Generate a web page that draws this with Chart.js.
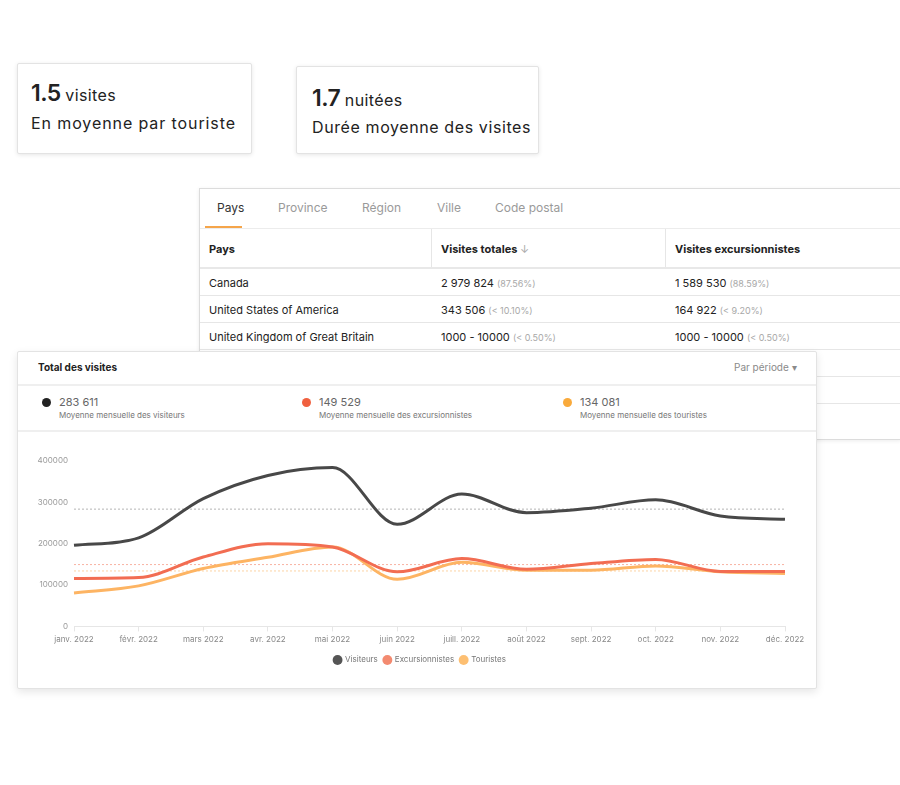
<!DOCTYPE html>
<html><head><meta charset="utf-8">
<script src="https://cdn.jsdelivr.net/npm/chart.js@4/dist/chart.umd.min.js"></script>
<style>
*{box-sizing:border-box;margin:0;padding:0}
body{width:900px;height:785px;background:#fff;font-family:Inter,"Open Sans",sans-serif;position:relative;overflow:hidden;color:#222}
.abs{position:absolute;white-space:nowrap}
.card{position:absolute;background:#fff;border:1px solid #e3e3e3;box-shadow:0 1px 4px rgba(0,0,0,0.10);border-radius:2px}
.big{font-size:23px;font-weight:600;letter-spacing:-0.5px}
.unit{font-size:16px;font-weight:400;letter-spacing:0.4px}
.sub{font-size:16px;color:#222;letter-spacing:0.9px}
.tab{position:absolute;top:200px;font-size:12px;color:#9a9a9a}
.th{position:absolute;top:242px;font-size:11px;font-weight:700;color:#222}
.td{position:absolute;font-size:11px;color:#222;white-space:nowrap}
.td span{font-size:9px;color:#a8a8a8}
.hl{position:absolute;height:1px;background:#e6e6e6}
</style></head><body>

<div class="card" style="left:17px;top:63px;width:235px;height:91px">
  <div class="abs" style="left:13px;top:15px"><span class="big">1.5</span> <span class="unit">visites</span></div>
  <div class="abs sub" style="left:13px;top:49px">En moyenne par touriste</div>
</div>
<div class="card" style="left:296px;top:66px;width:243px;height:88px">
  <div class="abs" style="left:15px;top:17px"><span class="big">1.7</span> <span class="unit">nuitées</span></div>
  <div class="abs sub" style="left:15px;top:50px;letter-spacing:0.6px">Durée moyenne des visites</div>
</div>

<!-- table card -->
<div class="abs" style="left:199px;top:188px;width:702px;height:252px;border:1px solid #dcdcdc;border-right:none;background:#fff;box-shadow:0 1px 4px rgba(0,0,0,0.08)"></div>
<div class="tab" style="left:217px;color:#333">Pays</div>
<div class="tab" style="left:278px">Province</div>
<div class="tab" style="left:362px">Région</div>
<div class="tab" style="left:437px">Ville</div>
<div class="tab" style="left:495px">Code postal</div>
<div class="abs" style="left:205px;top:226px;width:37px;height:2px;background:#f5a54a"></div>
<div class="hl" style="left:200px;top:228px;width:700px;background:#ececec"></div>
<div class="abs" style="left:431px;top:229px;width:1px;height:39px;background:#e6e6e6"></div>
<div class="abs" style="left:665px;top:229px;width:1px;height:39px;background:#e6e6e6"></div>
<div class="hl" style="left:200px;top:267px;width:700px;height:2px;background:#e8e8e8"></div>
<div class="th" style="left:209px">Pays</div>
<div class="th" style="left:441px">Visites totales <span style="font-weight:400;color:#aaa">↓</span></div>
<div class="th" style="left:675px">Visites excursionnistes</div>
<div class="td" style="left:209px;top:276px">Canada</div>
<div class="td" style="left:441px;top:276px">2 979 824 <span>(87.56%)</span></div>
<div class="td" style="left:675px;top:276px">1 589 530 <span>(88.59%)</span></div>
<div class="hl" style="left:200px;top:295px;width:700px"></div>
<div class="td" style="left:209px;top:303px">United States of America</div>
<div class="td" style="left:441px;top:303px">343 506 <span>(&lt; 10.10%)</span></div>
<div class="td" style="left:675px;top:303px">164 922 <span>(&lt; 9.20%)</span></div>
<div class="hl" style="left:200px;top:322px;width:700px"></div>
<div class="td" style="left:209px;top:330px">United Kingdom of Great Britain</div>
<div class="td" style="left:441px;top:330px">1000 - 10000 <span>(&lt; 0.50%)</span></div>
<div class="td" style="left:675px;top:330px">1000 - 10000 <span>(&lt; 0.50%)</span></div>
<div class="hl" style="left:200px;top:349px;width:700px"></div>
<div class="hl" style="left:200px;top:376px;width:700px"></div>
<div class="hl" style="left:200px;top:403px;width:700px"></div>

<!-- chart card -->
<div class="card" style="left:17px;top:351px;width:800px;height:338px;box-shadow:0 3px 8px rgba(0,0,0,0.10)">
  <div class="abs" style="left:20px;top:9px;font-size:10px;font-weight:700;color:#222">Total des visites</div>
  <div class="abs" style="left:716px;top:9px;font-size:10px;color:#8a8a8a">Par période ▾</div>
  <div class="abs" style="left:0;top:32px;width:798px;height:2px;background:#efefef"></div>
  <div class="abs" style="left:0;top:78px;width:798px;height:2px;background:#efefef"></div>
  <div id="stats"></div>
  <div class="abs" style="left:0;top:88px;width:804px;height:240px"><canvas id="c"></canvas></div>
</div>

<script>
const months = ["janv. 2022","févr. 2022","mars 2022","avr. 2022","mai 2022","juin 2022","juill. 2022","août 2022","sept. 2022","oct. 2022","nov. 2022","déc. 2022"];
const visiteurs = [196000,214000,309000,365000,384000,247000,320000,275000,286000,306000,267000,259000];
const excursionnistes = [116000,118000,168000,200000,192000,132000,164000,138000,152000,162000,133000,133000];
const touristes = [81000,98000,140000,167000,192000,114000,155000,136000,136000,146000,132000,128000];
const seriesNames = ["Visiteurs","Excursionnistes","Touristes"];
const averages = [283611,149529,134081];
const averageLabels = ["283 611","149 529","134 081"];
const averageTexts = ["Moyenne mensuelle des visiteurs","Moyenne mensuelle des excursionnistes","Moyenne mensuelle des touristes"];
const yTicks = [0,100000,200000,300000,400000];

const lineColors = ["#484848","#f26d52","#fdb463"];
const legendColors = ["#555555","#f38a70","#fdbf72"];
const dotColors = ["#222222","#f0603f","#f9aa3c"];
const avgColors = ["#b5b5b5","#f8b3a3","#fcd3a3"];

// stats header
const stats = document.getElementById('stats');
const statX = [24,284,545];
averages.forEach((v,i)=>{
  stats.insertAdjacentHTML('beforeend',
   `<div class="abs" style="left:${statX[i]}px;top:46px;width:9px;height:9px;border-radius:50%;background:${dotColors[i]}"></div>
    <div class="abs" style="left:${statX[i]+17}px;top:43px;font-size:11px;color:#666">${averageLabels[i]}</div>
    <div class="abs" style="left:${statX[i]+17}px;top:58px;font-size:8px;color:#777">${averageTexts[i]}</div>`);
});

const series = [visiteurs, excursionnistes, touristes];
const datasets = series.map((d,i)=>({
  label: seriesNames[i], data: d, borderColor: lineColors[i], backgroundColor: legendColors[i],
  borderWidth: 3, pointRadius: 0, cubicInterpolationMode:'monotone', fill: false, order: 1
}));
averages.forEach((a,i)=>{
  datasets.push({label:'avg'+i, data: months.map(()=>a), borderColor: avgColors[i], borderWidth: 1,
    borderDash:[2,2], pointRadius:0, fill:false, order: 2});
});

new Chart(document.getElementById('c'), {
  type:'line',
  data:{labels: months, datasets},
  options:{
    responsive:true, maintainAspectRatio:false, animation:false,
    layout:{padding:{top:21,right:0,left:0,bottom:6}},
    plugins:{
      tooltip:{enabled:false},
      legend:{position:'bottom',
        labels:{usePointStyle:true, pointStyle:'circle', boxWidth:7, boxHeight:7,
          padding:6, color:'#777', font:{family:'Inter',size:8},
          generateLabels:(chart)=>seriesNames.map((n,i)=>({text:n, fillStyle:legendColors[i], strokeStyle:legendColors[i],
            lineWidth:0, pointStyle:'circle', fontColor:'#777', hidden:false, datasetIndex:i}))}}
    },
    scales:{
      x:{offset:false, afterFit:(ax)=>{ax.height += 3;},
         grid:{display:true,drawOnChartArea:false,drawTicks:true,tickLength:5,color:'#e6e6e6'},
         border:{color:'#e6e6e6'},
         ticks:{color:'#888',font:{family:'Inter',size:8},maxRotation:0,autoSkip:false,padding:3}},
      y:{min:0,max:400000,
         afterBuildTicks:(ax)=>{ax.ticks = yTicks.map(v=>({value:v}));},
         afterFit:(ax)=>{ax.width=56;},
         grid:{display:false,drawTicks:false}, border:{display:false},
         ticks:{color:'#999',font:{family:'Inter',size:8},padding:6,callback:(v)=>String(v)}},
      yPad:{position:'right',min:0,max:1,afterFit:(ax)=>{ax.width=37;},
         grid:{display:false,drawTicks:false}, border:{display:false},
         ticks:{display:false}}
    }
  }
});
</script>
</body></html>
